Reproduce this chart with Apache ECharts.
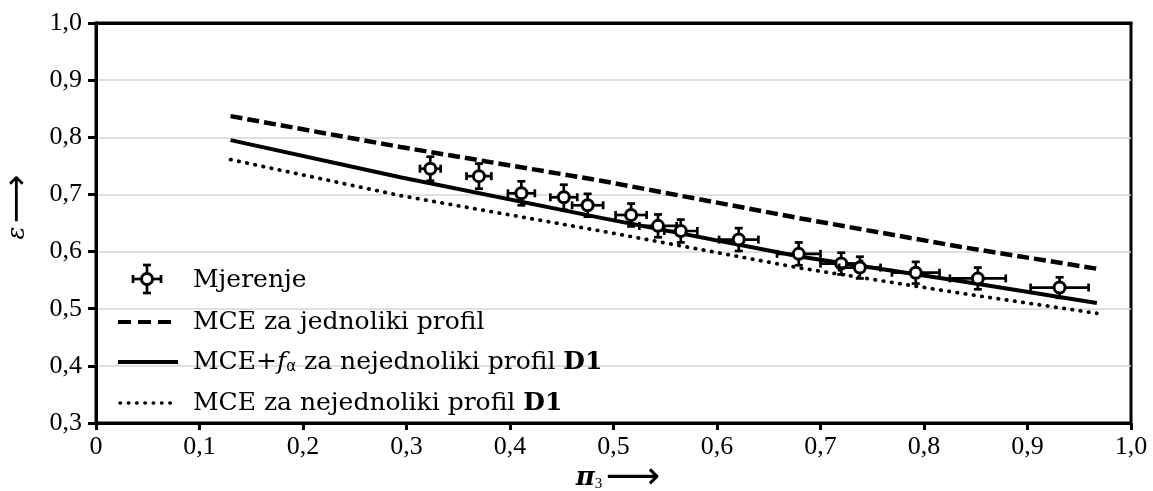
<!DOCTYPE html>
<html>
<head>
<meta charset="utf-8">
<style>
  html, body { margin: 0; padding: 0; background: #fff; }
  #chart { width: 1153px; height: 491px; }
</style>
<script src="https://cdn.jsdelivr.net/npm/echarts@6/dist/echarts.min.js"></script>
</head>
<body>
<div id="chart"></div>
<script>
// ---- data ----
const piMeas  = [0.323, 0.370, 0.411, 0.452, 0.475, 0.517, 0.543, 0.565, 0.621, 0.679, 0.720, 0.738, 0.792, 0.852, 0.931];
const epsMeas = [0.745, 0.732, 0.702, 0.695, 0.681, 0.664, 0.645, 0.636, 0.621, 0.596, 0.579, 0.572, 0.563, 0.553, 0.537];
const piErr   = [0.010, 0.012, 0.013, 0.013, 0.015, 0.015, 0.018, 0.016, 0.019, 0.021, 0.020, 0.020, 0.023, 0.027, 0.028];
const epsErr  = [0.021, 0.022, 0.021, 0.022, 0.020, 0.020, 0.020, 0.020, 0.020, 0.020, 0.019, 0.019, 0.019, 0.019, 0.018];

const piModel    = [0.13, 0.294, 0.488, 0.681, 0.836, 0.967];
const epsUniform = [0.837, 0.783, 0.724, 0.658, 0.608, 0.570];
const epsFalpha  = [0.795, 0.730, 0.659, 0.591, 0.548, 0.510];
const epsNonuni  = [0.761, 0.698, 0.636, 0.571, 0.527, 0.492];

const legendLabels = ['Mjerenje', 'MCE za jednoliki profil', 'MCE+f\u03B1 za nejednoliki profil D1', 'MCE za nejednoliki profil D1'];
const xAxisTitle = '\u03C0';
const yAxisTitle = '\u03B5';

// ---- chart ----
const SERIF = '"Liberation Serif", "DejaVu Serif", serif';
const LSERIF = '"DejaVu Serif", "Liberation Serif", serif';
const fmt = v => (Math.abs(v) < 1e-9 ? '0' : v.toFixed(1).replace('.', ','));
const chart = echarts.init(document.getElementById('chart'), null, { renderer: 'canvas' });

const measData = piMeas.map((p, i) => [p, epsMeas[i], piErr[i], epsErr[i]]);
const toPairs = arr => piModel.map((p, i) => [p, arr[i]]);

function lineSeries(name, data, type, width, cap) {
  return {
    name, type: 'line', data, symbol: 'none', z: 3,
    lineStyle: { color: '#000', width, type, cap: cap || 'butt' },
    emphasis: { disabled: true }, silent: true, animation: false
  };
}

// legend drawn as graphic elements
const LX0 = 118, LX1 = 178, TX = 193;
const rows = [280, 322, 362, 403];
const legendGraphics = [];
(function () {
  const cx = 147, cy = rows[0] - 1, e = 14, cap = 4;
  const st = { stroke: '#000', lineWidth: 2.7 };
  [[cx - e, cy, cx + e, cy], [cx, cy - e, cx, cy + e],
   [cx - e, cy - cap, cx - e, cy + cap], [cx + e, cy - cap, cx + e, cy + cap],
   [cx - cap, cy - e, cx + cap, cy - e], [cx - cap, cy + e, cx + cap, cy + e]].forEach(s => {
    legendGraphics.push({ type: 'line', shape: { x1: s[0], y1: s[1], x2: s[2], y2: s[3] }, style: st, z: 10 });
  });
  legendGraphics.push({ type: 'circle', shape: { cx, cy, r: 5.5 }, style: { fill: '#fff', stroke: '#000', lineWidth: 3 }, z: 11 });
})();
legendGraphics.push({ type: 'line', shape: { x1: LX0, y1: rows[1], x2: LX1, y2: rows[1] }, style: { stroke: '#000', lineWidth: 4, lineDash: [13, 7] }, z: 10 });
legendGraphics.push({ type: 'line', shape: { x1: LX0, y1: rows[2], x2: LX1, y2: rows[2] }, style: { stroke: '#000', lineWidth: 4 }, z: 10 });
legendGraphics.push({ type: 'line', shape: { x1: LX0 + 2, y1: rows[3], x2: LX1, y2: rows[3] }, style: { stroke: '#000', lineWidth: 3.5, lineDash: [0.5, 7.8], lineCap: 'round' }, z: 10 });

const rich = {
  a: { fontFamily: LSERIF, fontSize: 25, color: '#000' },
  i: { fontFamily: LSERIF, fontSize: 25, fontStyle: 'italic', color: '#000' },
  s: { fontFamily: '"DejaVu Sans", sans-serif', fontSize: 15, color: '#000', padding: [10, 0, 0, 0] },
  b: { fontFamily: LSERIF, fontSize: 25, fontWeight: 'bold', color: '#000' }
};
const legendTexts = [
  '{a|' + legendLabels[0] + '}',
  '{a|' + legendLabels[1] + '}',
  '{a|MCE+}{i|f}{s|\u03B1}{a| za nejednoliki profil }{b|D1}',
  '{a|MCE za nejednoliki profil }{b|D1}'
];
legendTexts.forEach((t, i) => {
  legendGraphics.push({
    type: 'text', x: TX, y: rows[i], z: 10,
    style: { text: t, rich, verticalAlign: 'middle', align: 'left', fill: '#000' }
  });
});

// axis titles
legendGraphics.push({
  type: 'text', x: 18, y: 207, rotation: Math.PI / 2, z: 10,
  style: {
    text: '{e|' + yAxisTitle + '} {r|\u27F6}', align: 'center', verticalAlign: 'middle',
    rich: {
      e: { fontFamily: LSERIF, fontSize: 24, fontStyle: 'italic', color: '#000' },
      r: { fontFamily: '"DejaVu Sans", sans-serif', fontSize: 34, color: '#000' }
    }
  }
});
legendGraphics.push({
  type: 'text', x: 618, y: 478, z: 10,
  style: {
    text: '{p|' + xAxisTitle + '}{s|3} {r|\u27F6}', align: 'center', verticalAlign: 'middle',
    rich: {
      p: { fontFamily: LSERIF, fontSize: 26, fontStyle: 'italic', fontWeight: 'bold', color: '#000' },
      s: { fontFamily: SERIF, fontSize: 15, color: '#000', padding: [12, 0, 0, 0] },
      r: { fontFamily: '"DejaVu Sans", sans-serif', fontSize: 38, color: '#000' }
    }
  }
});

const option = {
  backgroundColor: '#fff',
  animation: false,
  grid: { left: 96, right: 22, top: 23, bottom: 68, show: true, borderColor: '#000', borderWidth: 3, backgroundColor: 'transparent' },
  xAxis: [{
    type: 'value', min: 0, max: 1, interval: 0.1,
    axisLine: { show: true, lineStyle: { color: '#000', width: 3 } },
    axisTick: { show: true, inside: false, length: 7, lineStyle: { color: '#000', width: 3 } },
    axisLabel: { color: '#000', fontFamily: SERIF, fontSize: 26, margin: 11, formatter: fmt },
    splitLine: { show: false }
  }, {
    type: 'value', min: 0, max: 1, position: 'top', z: 10,
    axisLine: { show: true, lineStyle: { color: '#000', width: 3 } },
    axisTick: { show: false }, axisLabel: { show: false }, splitLine: { show: false }
  }],
  yAxis: [{
    type: 'value', min: 0.3, max: 1.0, interval: 0.1,
    axisLine: { show: true, lineStyle: { color: '#000', width: 3 } },
    axisTick: { show: true, inside: false, length: 8, lineStyle: { color: '#000', width: 3 } },
    axisLabel: { color: '#000', fontFamily: SERIF, fontSize: 26, margin: 14, formatter: fmt },
    splitLine: { show: true, showMaxLine: false, showMinLine: false, lineStyle: { color: '#d6d6d6', width: 1.5 } }
  }, {
    type: 'value', min: 0.3, max: 1.0, position: 'right', z: 10,
    axisLine: { show: true, lineStyle: { color: '#000', width: 3 } },
    axisTick: { show: false }, axisLabel: { show: false }, splitLine: { show: false }
  }],
  series: [
    lineSeries(legendLabels[1], toPairs(epsUniform), [12, 5], 4.5),
    lineSeries(legendLabels[2], toPairs(epsFalpha), 'solid', 4),
    lineSeries(legendLabels[3], toPairs(epsNonuni), [0.5, 7.8], 3.8, 'round'),
    {
      name: legendLabels[0], type: 'custom', z: 5, silent: true, animation: false,
      data: measData,
      encode: { x: 0, y: 1 },
      renderItem: function (params, api) {
        const x = api.value(0), y = api.value(1), ex = api.value(2), ey = api.value(3);
        const c = api.coord([x, y]);
        const l = api.coord([x - ex, y]), r = api.coord([x + ex, y]);
        const t = api.coord([x, y + ey]), b = api.coord([x, y - ey]);
        const cap = 4;
        const st = { stroke: '#000', lineWidth: 2.7 };
        const segs = [
          [l[0], l[1], r[0], r[1]], [t[0], t[1], b[0], b[1]],
          [l[0], l[1] - cap, l[0], l[1] + cap], [r[0], r[1] - cap, r[0], r[1] + cap],
          [t[0] - cap, t[1], t[0] + cap, t[1]], [b[0] - cap, b[1], b[0] + cap, b[1]]
        ];
        const children = segs.map(s => ({ type: 'line', shape: { x1: s[0], y1: s[1], x2: s[2], y2: s[3] }, style: st }));
        children.push({ type: 'circle', shape: { cx: c[0], cy: c[1], r: 5.5 }, style: { fill: '#fff', stroke: '#000', lineWidth: 3 } });
        return { type: 'group', children };
      }
    }
  ],
  graphic: legendGraphics
};
chart.setOption(option);
</script>
</body>
</html>
